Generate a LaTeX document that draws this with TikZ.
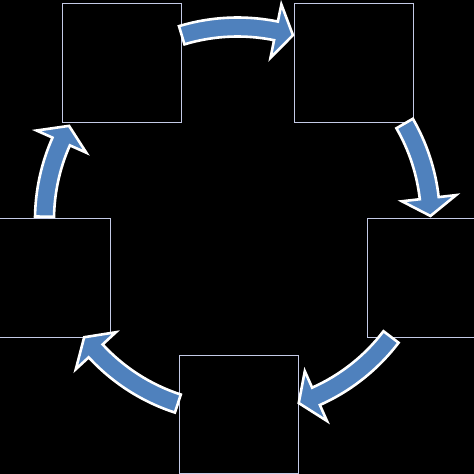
\documentclass[tikz,border=0pt]{standalone}
\definecolor{arrowblue}{HTML}{4F81BD}
\definecolor{boxline}{HTML}{C4CAE6}
\tikzset{
  sqbox/.style={draw=boxline, line width=1pt, minimum width=119pt, minimum height=118.5pt, inner sep=0pt, outer sep=0pt},
  blockarrow/.style={fill=arrowblue, draw=white, line width=2.6pt, line join=miter}
}
% y axis points down, so angles run clockwise on the page
% #1 tail angle, #2 head-base angle, #3 tip angle
\newcommand\cyclearrow[3]{%
  \draw[blockarrow] (#1:202.5) arc[start angle=#1, end angle=#2, radius=202.5]
    -- (#2:220) -- (#3:193) -- (#2:165.5) -- (#2:183.5)
    arc[start angle=#2, end angle=#1, radius=183.5] -- cycle;}
\begin{document}
\begin{tikzpicture}[x=1pt, y=-1pt]
  \fill[black] (0,0) rectangle (474,474);
  \useasboundingbox (0,0) rectangle (474,474);
  \clip (0,0) rectangle (474,474);
  \node[sqbox] (s1) at (121.75,63) {};
  \node[sqbox] (s2) at (353.5,63) {};
  \node[sqbox] (s3) at (426.5,277.75) {};
  \node[sqbox] (s4) at (238.5,414.5) {};
  \node[sqbox] (s5) at (50.5,277.75) {};
  \begin{scope}[shift={(237.5,220)}]
    \cyclearrow{-106.8}{-78.5}{-73.3}
    \cyclearrow{-30}{-6.5}{-1.2}
    \cyclearrow{37.3}{66}{71.5}
    \cyclearrow{108}{137.3}{142.6}
    \cyclearrow{-179}{-156}{-150.8}
  \end{scope}
\end{tikzpicture}
\end{document}
